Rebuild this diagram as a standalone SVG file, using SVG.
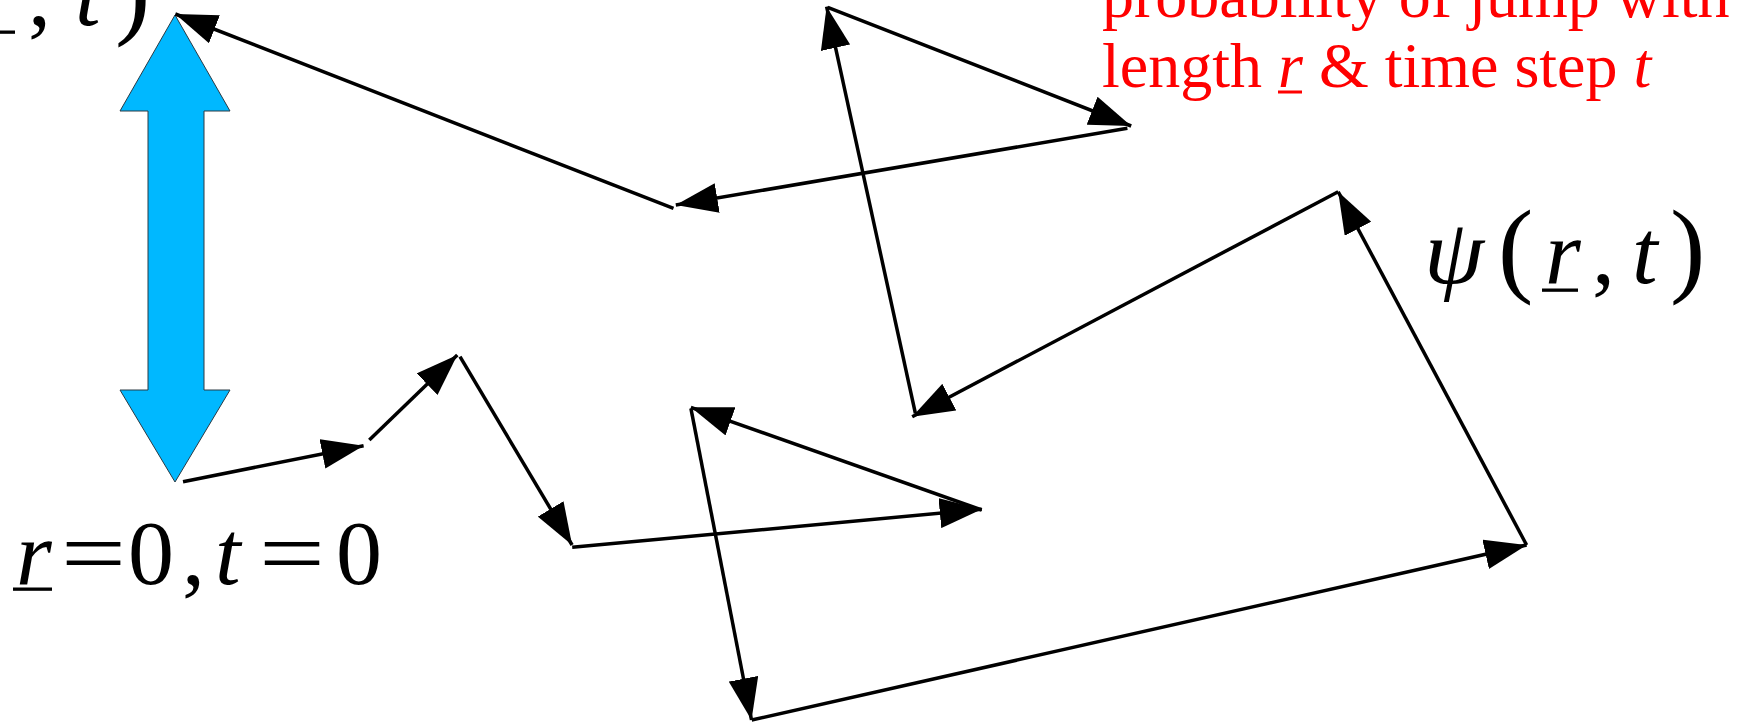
<svg xmlns="http://www.w3.org/2000/svg" width="1737" height="722" viewBox="0 0 1737 722">
<defs>
<style>
.jump{fill:none;stroke:#000;stroke-width:3.5;marker-end:url(#ah)}
.math{font-family:"Liberation Serif","Times New Roman",serif;font-size:92px;fill:#000}
.it{font-style:italic}
.par{font-size:106px}
.red{font-family:"Liberation Serif","Times New Roman",serif;font-size:64px;fill:#ff0000}
</style>
<marker id="ah" viewBox="0 0 42 30" refX="42" refY="15" markerWidth="42" markerHeight="30" markerUnits="userSpaceOnUse" orient="auto">
<path d="M0,0 L42,15 L0,30 z" fill="#000"/>
</marker>
</defs>
<rect width="1737" height="722" fill="#fff"/>

<g id="blue-double-arrow">
<polygon points="175,15 230,111 204,111 204,390 230,390 175,482 120,390 148,390 148,111 120,111" fill="#00B8FF" stroke="#2a3a44" stroke-width="1"/>
</g>

<g id="connectors">
<path class="jump" d="M183,481.7 L363.6,445.7"/>
<path class="jump" d="M369.3,440 L457.3,355"/>
<path class="jump" d="M460,356.7 L572.1,545"/>
<path class="jump" d="M572.2,547.3 L981.7,509.3"/>
<path class="jump" d="M981.7,510 L690.9,407.3"/>
<path class="jump" d="M690.9,408.3 L751.5,720"/>
<path class="jump" d="M751.7,720 L1526.6,545"/>
<path class="jump" d="M1526.6,545 L1338.2,191.7"/>
<path class="jump" d="M1338.2,191.7 L912.2,416.7"/>
<path class="jump" d="M915.4,413.3 L826.6,6.7"/>
<path class="jump" d="M827.7,7.3 L1131.2,126"/>
<path class="jump" d="M1127.4,128.3 L675.8,205"/>
<path class="jump" d="M673.5,208.3 L175.3,14"/>
</g>

<g id="label-topleft">
<rect x="0" y="30.5" width="15" height="3.3" fill="#000"/>
<text class="math" y="25"><tspan x="28">,</tspan><tspan x="75" class="it">t</tspan><tspan x="115" class="par">)</tspan></text>
</g>

<g id="label-origin">
<text class="math" y="584"><tspan x="16" class="it">r</tspan><tspan x="128">0</tspan><tspan x="182">,</tspan><tspan x="215" class="it">t</tspan><tspan x="336">0</tspan></text>
<text class="math" x="61" y="584" textLength="65" lengthAdjust="spacingAndGlyphs">=</text>
<text class="math" x="259" y="584" textLength="66" lengthAdjust="spacingAndGlyphs">=</text>
<rect x="13" y="587.5" width="39" height="3.3" fill="#000"/>
</g>

<g id="label-psi">
<text class="math it" x="1424" y="283" textLength="60" lengthAdjust="spacingAndGlyphs">ψ</text>
<text class="math" y="283"><tspan x="1498" class="par">(</tspan><tspan x="1545" class="it">r</tspan><tspan x="1592">,</tspan><tspan x="1632" class="it">t</tspan><tspan x="1670" class="par">)</tspan></text>
<rect x="1542" y="288.5" width="36" height="3.3" fill="#000"/>
</g>

<g id="label-probability">
<text class="red" x="1102" y="17">probability of jump with</text>
<text class="red" x="1102" y="87">length <tspan class="it">r</tspan> &amp; time step <tspan class="it">t</tspan></text>
<rect x="1278" y="90.5" width="24" height="3" fill="#ff0000"/>
</g>
</svg>
